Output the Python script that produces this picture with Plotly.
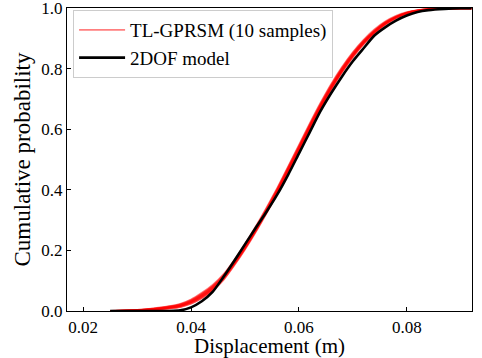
import plotly.graph_objects as go

# Displacement grid (m)
disp = [0.025, 0.030, 0.033, 0.036, 0.038, 0.040, 0.042, 0.044, 0.046, 0.048,
        0.050, 0.052, 0.054, 0.056, 0.058, 0.060, 0.062, 0.064, 0.066, 0.068,
        0.070, 0.072, 0.074, 0.076, 0.078, 0.080, 0.082, 0.084, 0.087, 0.090, 0.092]

# 2DOF model CDF
cdf_2dof = [0, 0, 0, 0, 0.002, 0.012, 0.032, 0.063, 0.112, 0.165,
            0.220, 0.275, 0.328, 0.385, 0.450, 0.520, 0.590, 0.660, 0.720, 0.775,
            0.825, 0.868, 0.910, 0.937, 0.959, 0.976, 0.988, 0.994, 0.998, 1.0, 1.0]

# TL-GPRSM CDFs (10 samples)
tl_s1 = [0, 0.003, 0.006, 0.012, 0.018, 0.030, 0.050, 0.075, 0.110, 0.158, 0.210, 0.268, 0.330, 0.395, 0.465, 0.535, 0.607, 0.675, 0.738, 0.795, 0.845, 0.887, 0.922, 0.950, 0.970, 0.984, 0.992, 0.996, 0.999, 1, 1]
tl_s2 = [0, 0.004, 0.008, 0.015, 0.022, 0.036, 0.057, 0.083, 0.118, 0.165, 0.218, 0.276, 0.338, 0.404, 0.474, 0.545, 0.616, 0.684, 0.747, 0.803, 0.852, 0.893, 0.927, 0.954, 0.973, 0.986, 0.993, 0.997, 0.999, 1, 1]
tl_s3 = [0, 0.002, 0.004, 0.009, 0.014, 0.025, 0.044, 0.069, 0.104, 0.152, 0.205, 0.263, 0.325, 0.390, 0.460, 0.530, 0.602, 0.670, 0.733, 0.790, 0.840, 0.883, 0.918, 0.947, 0.968, 0.983, 0.991, 0.996, 0.999, 1, 1]
tl_s4 = [0, 0.003, 0.007, 0.013, 0.020, 0.033, 0.053, 0.079, 0.113, 0.160, 0.212, 0.270, 0.333, 0.399, 0.469, 0.540, 0.611, 0.679, 0.742, 0.799, 0.848, 0.890, 0.924, 0.952, 0.971, 0.985, 0.992, 0.997, 0.999, 1, 1]
tl_s5 = [0, 0.002, 0.005, 0.010, 0.016, 0.028, 0.047, 0.072, 0.107, 0.155, 0.207, 0.265, 0.327, 0.392, 0.462, 0.532, 0.604, 0.672, 0.735, 0.792, 0.842, 0.885, 0.920, 0.948, 0.969, 0.983, 0.991, 0.996, 0.999, 1, 1]
tl_s6 = [0, 0.004, 0.009, 0.016, 0.024, 0.038, 0.060, 0.086, 0.121, 0.168, 0.221, 0.279, 0.341, 0.407, 0.477, 0.548, 0.619, 0.687, 0.750, 0.806, 0.855, 0.896, 0.930, 0.956, 0.975, 0.987, 0.994, 0.997, 1, 1, 1]
tl_s7 = [0, 0.003, 0.006, 0.011, 0.017, 0.029, 0.048, 0.073, 0.108, 0.156, 0.209, 0.267, 0.329, 0.394, 0.464, 0.534, 0.606, 0.674, 0.737, 0.794, 0.844, 0.886, 0.921, 0.949, 0.970, 0.984, 0.992, 0.996, 0.999, 1, 1]
tl_s8 = [0, 0.002, 0.005, 0.011, 0.017, 0.031, 0.051, 0.077, 0.112, 0.159, 0.211, 0.269, 0.331, 0.397, 0.467, 0.537, 0.609, 0.677, 0.740, 0.797, 0.846, 0.888, 0.923, 0.951, 0.971, 0.985, 0.992, 0.996, 0.999, 1, 1]
tl_s9 = [0, 0.003, 0.007, 0.014, 0.021, 0.034, 0.055, 0.081, 0.116, 0.163, 0.216, 0.274, 0.336, 0.402, 0.472, 0.542, 0.613, 0.681, 0.744, 0.801, 0.850, 0.891, 0.925, 0.953, 0.972, 0.985, 0.993, 0.997, 0.999, 1, 1]
tl_s10 = [0, 0.001, 0.003, 0.008, 0.013, 0.024, 0.042, 0.067, 0.102, 0.150, 0.203, 0.261, 0.323, 0.388, 0.458, 0.528, 0.600, 0.668, 0.731, 0.788, 0.838, 0.881, 0.916, 0.945, 0.966, 0.982, 0.991, 0.995, 0.999, 1, 1]

tl_samples = [tl_s1, tl_s2, tl_s3, tl_s4, tl_s5, tl_s6, tl_s7, tl_s8, tl_s9, tl_s10]

x_ticks = [0.02, 0.04, 0.06, 0.08]
y_ticks = [0.0, 0.2, 0.4, 0.6, 0.8, 1.0]

FONT = "Liberation Serif"

fig = go.Figure()
for i, s in enumerate(tl_samples):
    fig.add_trace(go.Scatter(
        x=disp, y=s, mode="lines",
        line=dict(color="rgba(255,0,0,0.5)", width=1.8, shape="spline", smoothing=0.6),
        name="TL-GPRSM (10 samples)", showlegend=(i == 0), legendgroup="tl"))
fig.add_trace(go.Scatter(
    x=disp, y=cdf_2dof, mode="lines",
    line=dict(color="black", width=2.6, shape="spline", smoothing=0.6),
    name="2DOF model"))

axis_common = dict(
    showline=True, linecolor="black", linewidth=1.3, mirror=True,
    ticks="inside", ticklen=4, tickwidth=1, tickcolor="black",
    showgrid=False, zeroline=False, automargin=False,
    ticklabeloverflow="allow",
    tickfont=dict(family=FONT, size=17, color="black"),
)

fig.update_layout(
    width=482, height=358,
    margin=dict(l=67, r=10, t=8, b=47, autoexpand=False),
    paper_bgcolor="white", plot_bgcolor="white",
    font=dict(family=FONT, color="black"),
    xaxis=dict(range=[0.017, 0.0921], tickvals=x_ticks,
               ticktext=[f"{v:.2f}" for v in x_ticks],
               title=dict(text="Displacement (m)", font=dict(family=FONT, size=21), standoff=5),
               **axis_common),
    yaxis=dict(range=[0, 1.001], tickvals=y_ticks,
               ticktext=[f"{v:.1f}" for v in y_ticks],
               title=dict(text="Cumulative probability", font=dict(family=FONT, size=23), standoff=4),
               **axis_common),
    legend=dict(x=0.015, y=0.993, xanchor="left", yanchor="top",
                bgcolor="rgba(255,255,255,0.8)", bordercolor="#cccccc", borderwidth=1,
                font=dict(family=FONT, size=19, color="black"),
                tracegroupgap=0, itemwidth=46),
    showlegend=True,
)

fig.write_html("out.html", config={"displayModeBar": False},
               post_script="document.body.style.margin='0';")
